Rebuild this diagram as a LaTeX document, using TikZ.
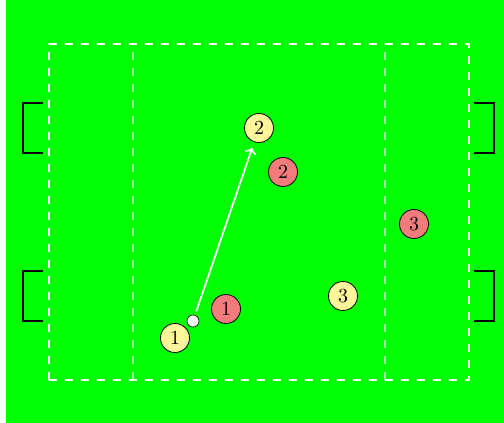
\documentclass[tikz,border=0pt]{standalone}
\usepackage{xcolor}
\usepackage{tikz}
\usetikzlibrary{arrows.meta, positioning}
\definecolor{pitch}{HTML}{00FF00}
\definecolor{homeyel}{HTML}{FFF59A}
\definecolor{awayred}{HTML}{F27C7C}
\tikzset{
    line/.style={draw=white, line width=0.8pt, dash pattern=on 4pt off 4pt},
    zone/.style={draw=white, draw opacity=0.6, line width=0.6pt, dash pattern=on 4pt off 4pt},
    goal/.style={draw=black, line width=1pt},
    home/.style={circle, draw=black, fill=homeyel, minimum size=14.5pt, inner sep=0pt},
    away/.style={home, fill=awayred},
    ballnode/.style={circle, draw=black, fill=white, line width=0.3pt, minimum size=6pt, inner sep=0pt},
    pass/.style={-{To[length=3pt,width=6pt]}, white, line width=0.9pt, shorten <=2pt, shorten >=3pt}
}
\begin{document}
\begin{tikzpicture}[x=5pt, y=5pt]
        \useasboundingbox (0,0) rectangle (50.4,42.3);
        \fill[pitch] (0.6,0) rectangle (50.4,42.3);
        % field
        \draw[line] (4.9,4.3) rectangle (46.9,37.9);
        \draw[zone] (13.3,4.3) -- (13.3,37.9);
        \draw[zone] (38.5,4.3) -- (38.5,37.9);
        % goals
        \foreach \y in {10.2,27.0} {
            \draw[goal] (4.3,\y) -- (2.3,\y) -- (2.3,\y+5) -- (4.3,\y+5);
            \draw[goal] (47.4,\y) -- (49.4,\y) -- (49.4,\y+5) -- (47.4,\y+5);
        }
        % players
        \node[home] (y1) at (17.5,8.5) {1};
        \node[home] (y2) at (25.9,29.5) {2};
        \node[home] (y3) at (34.3,12.7) {3};
        \node[away] (r1) at (22.6,11.4) {1};
        \node[away] (r2) at (28.3,25.1) {2};
        \node[away] (r3) at (41.4,19.9) {3};
        % ball and pass
        \node[ballnode] (ball) at (19.3,10.2) {};
        \draw[pass] (ball) -- (y2);
    \end{tikzpicture}
\end{document}
